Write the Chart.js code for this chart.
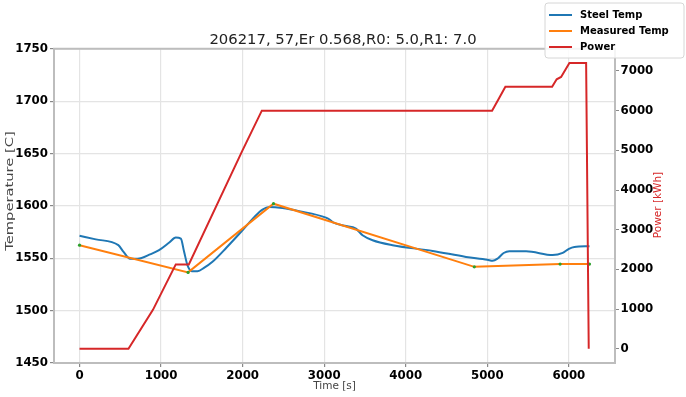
<!DOCTYPE html>
<html><head><meta charset="utf-8">
<script src="https://cdn.jsdelivr.net/npm/chart.js@4.4.1/dist/chart.umd.min.js"></script>
<style>html,body{margin:0;padding:0;background:#fff}#wrap{width:686px;height:397px;position:relative}</style>
</head><body><div id="wrap"><canvas id="c" width="686" height="397"></canvas></div>
<script>
const titleText = "206217, 57,Er 0.568,R0: 5.0,R1: 7.0";
const seriesNames = ["Steel Temp", "Measured Temp", "Power"];
const leftAxisTitle = "Temperature [C]";
const rightAxisTitle = "Power [kWh]";
const bottomAxisTitle = "Time [s]";

const steelTime = [0,200,476,540,620,710,873,975,1100,1180,1242,1280,1323,1376,1446,1530,1630,1800,1998,2150,2243,2325,2488,2693,3021,3061,3102,3250,3389,3430,3470,3593,3838,4329,4738,5000,5065,5130,5200,5270,5475,5801,5924,6000,6067,6252];
const steelTemp = [1571.5,1568,1562.5,1556,1549.5,1549.5,1553.9,1557.7,1565,1569.8,1568.8,1557,1543.4,1537.7,1537.7,1541,1546.6,1560,1576.7,1590,1596.4,1598.9,1597.9,1595,1588.8,1587.2,1584.6,1581,1578.3,1575,1572,1567.2,1562.5,1557,1551.3,1548.5,1547.5,1550,1555,1556.7,1556.7,1553,1555.1,1559,1560.8,1561.5];

const measTime = [0,1331,2378,4840,5892,6252];
const measTemp = [1562.5,1536.5,1602.1,1541.8,1544.4,1544.4];

const powerTime = [0,600,900,1180,1340,1998,2235,5058,5140,5221,5794,5850,5904,6006,6211,6243];
const powerKWh = [0,0,980,2125,2125,5000,6000,6000,6300,6600,6600,6790,6850,7200,7200,0];

const xTicks = [0,1000,2000,3000,4000,5000,6000];
const tempTicks = [1450,1500,1550,1600,1650,1700,1750];
const powerTicks = [0,1000,2000,3000,4000,5000,6000,7000];

const colors = ["#1f77b4", "#ff7f0e", "#d62728"];
const zip = (xs, ys) => xs.map((x, i) => ({x: x, y: ys[i]}));
const setTicks = arr => (scale) => { scale.ticks = arr.map(v => ({value: v})); };
const plainLabel = v => String(v);

const tickFont = {family: "DejaVu Sans", size: 11.8, weight: "bold"};
const axisTitleFont = {family: "DejaVu Sans", size: 10.5};

const framePlugin = {
  id: "frame",
  afterDatasetsDraw(chart) {
    const a = chart.chartArea, ctx = chart.ctx;
    ctx.save();
    ctx.strokeStyle = "#bdbdbd";
    ctx.lineWidth = 2;
    ctx.strokeRect(a.left, a.top, a.right - a.left, a.bottom - a.top);
    ctx.restore();
  }
};

const axisTitlesPlugin = {
  id: "axisTitles",
  afterDraw(chart) {
    const ctx = chart.ctx;
    ctx.save();
    ctx.font = "10.5px 'DejaVu Sans'";
    ctx.textAlign = "center";
    ctx.textBaseline = "middle";
    ctx.save();
    ctx.translate(10, 191);
    ctx.rotate(-Math.PI / 2);
    ctx.scale(1.4, 1);
    ctx.fillStyle = "#444";
    ctx.fillText(leftAxisTitle, 0, 0);
    ctx.restore();
    ctx.save();
    ctx.translate(658, 205);
    ctx.rotate(-Math.PI / 2);
    ctx.fillStyle = "#d62728";
    ctx.fillText(rightAxisTitle, 0, 0);
    ctx.restore();
    ctx.restore();
  }
};

const legendPlugin = {
  id: "customLegend",
  afterDraw(chart) {
    const ctx = chart.ctx;
    ctx.save();
    const bx = 545, by = 3, bw = 139, bh = 55, r = 3;
    ctx.beginPath();
    ctx.moveTo(bx + r, by);
    ctx.lineTo(bx + bw - r, by); ctx.quadraticCurveTo(bx + bw, by, bx + bw, by + r);
    ctx.lineTo(bx + bw, by + bh - r); ctx.quadraticCurveTo(bx + bw, by + bh, bx + bw - r, by + bh);
    ctx.lineTo(bx + r, by + bh); ctx.quadraticCurveTo(bx, by + bh, bx, by + bh - r);
    ctx.lineTo(bx, by + r); ctx.quadraticCurveTo(bx, by, bx + r, by);
    ctx.closePath();
    ctx.fillStyle = "rgba(255,255,255,0.85)";
    ctx.fill();
    ctx.strokeStyle = "#d6d6d6";
    ctx.lineWidth = 1;
    ctx.stroke();
    ctx.font = "bold 10px 'DejaVu Sans'";
    ctx.textBaseline = "middle";
    ctx.textAlign = "left";
    seriesNames.forEach((name, i) => {
      const y = 15 + i * 16;
      ctx.strokeStyle = colors[i];
      ctx.lineWidth = 2;
      ctx.beginPath(); ctx.moveTo(549, y); ctx.lineTo(572, y); ctx.stroke();
      ctx.fillStyle = "#000";
      ctx.fillText(name, 580, y);
    });
    ctx.restore();
  }
};

new Chart(document.getElementById("c"), {
  type: "line",
  data: {
    datasets: [
      {label: seriesNames[2], data: zip(powerTime, powerKWh), yAxisID: "y2", borderColor: colors[2], backgroundColor: colors[2], borderWidth: 2, pointRadius: 0, tension: 0, order: 0},
      {label: seriesNames[1], data: zip(measTime, measTemp), yAxisID: "y", borderColor: colors[1], backgroundColor: "#2ca02c", borderWidth: 2, pointRadius: 1.6, pointBorderWidth: 0, pointBackgroundColor: "#2ca02c", tension: 0, order: 1},
      {label: seriesNames[0], data: zip(steelTime, steelTemp), yAxisID: "y", borderColor: colors[0], backgroundColor: colors[0], borderWidth: 2, pointRadius: 0, cubicInterpolationMode: "monotone", order: 2}
    ]
  },
  options: {
    responsive: false,
    animation: false,
    devicePixelRatio: 1,
    layout: {padding: 0},
    plugins: {
      legend: {display: false},
      tooltip: {enabled: false},
      title: {display: true, text: titleText, color: "#222", font: {family: "DejaVu Sans", size: 14.8, weight: "normal", lineHeight: 1.2}, padding: {top: 31, bottom: 0}}
    },
    scales: {
      x: {
        type: "linear", min: -313, max: 6565,
        afterBuildTicks: setTicks(xTicks),
        afterFit: s => { s.height = 34; },
        ticks: {font: tickFont, color: "#000", padding: 1.5, maxRotation: 0, callback: plainLabel},
        grid: {color: "#e4e4e4", lineWidth: 1.2, tickLength: 4, tickColor: "#888"},
        border: {display: false},
        title: {display: true, text: bottomAxisTitle, font: axisTitleFont, color: "#444", padding: {top: 0, bottom: 4}}
      },
      y: {
        type: "linear", position: "left", min: 1450, max: 1750,
        afterBuildTicks: setTicks(tempTicks),
        afterFit: s => { s.width = 54; },
        ticks: {font: tickFont, color: "#000", padding: 2, callback: plainLabel},
        grid: {color: "#e4e4e4", lineWidth: 1.2, tickLength: 4, tickColor: "#888"},
        border: {display: false},
        title: {display: false}
      },
      y2: {
        type: "linear", position: "right", min: -360, max: 7560,
        afterBuildTicks: setTicks(powerTicks),
        afterFit: s => { s.width = 71; },
        ticks: {font: tickFont, color: "#000", padding: 1.5, callback: plainLabel},
        grid: {drawOnChartArea: false, tickLength: 4, tickColor: "#888"},
        border: {display: false},
        title: {display: false}
      }
    }
  },
  plugins: [framePlugin, axisTitlesPlugin, legendPlugin]
});
</script>
</body></html>
